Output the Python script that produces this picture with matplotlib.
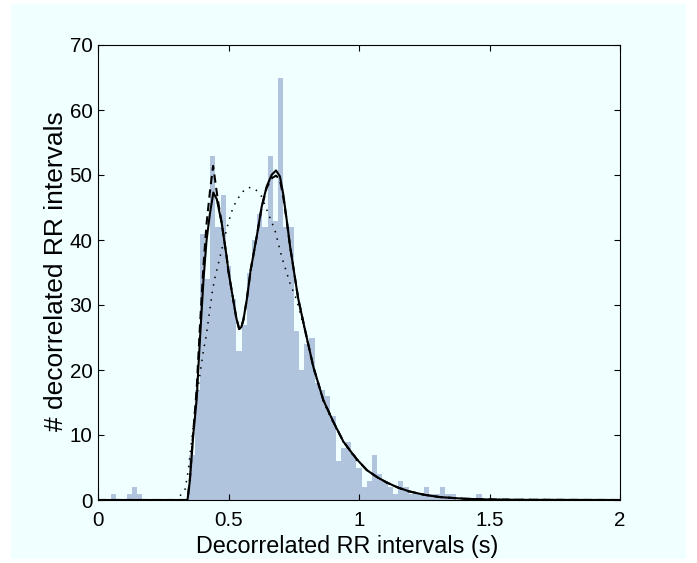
import matplotlib
matplotlib.use("Agg")
import matplotlib.pyplot as plt
from matplotlib.patches import Rectangle

# ---------------- data ----------------
bin_centers = [0.06, 0.12, 0.14, 0.16,
               0.36, 0.38, 0.40, 0.42, 0.44, 0.46, 0.48, 0.50, 0.52, 0.54,
               0.56, 0.58, 0.60, 0.62, 0.64, 0.66, 0.68, 0.70, 0.72, 0.74,
               0.76, 0.78, 0.80, 0.82, 0.84, 0.86, 0.88, 0.90, 0.92, 0.94,
               0.96, 0.98, 1.00, 1.02, 1.04, 1.06, 1.08, 1.10, 1.12, 1.14,
               1.16, 1.18, 1.20, 1.22, 1.24, 1.26, 1.28, 1.30, 1.32, 1.34,
               1.36, 1.46]
bin_counts = [1, 1, 2, 1,
              7, 17, 41, 34, 53, 42, 47, 36, 31, 23,
              27, 35, 40, 44, 42, 53, 43, 65, 42, 42,
              26, 20, 24, 25, 18, 17, 16, 13, 6, 8,
              9, 7, 5, 2, 3, 7, 4, 3, 2, 1,
              3, 2, 1, 1, 1, 2, 1, 1, 2, 1,
              1, 1]
bin_width = 0.02

solid_x = [0.0, 0.343, 0.352, 0.365, 0.378, 0.391, 0.404, 0.416, 0.429, 0.442,
           0.455, 0.474, 0.493, 0.499, 0.518, 0.530, 0.541, 0.549, 0.557, 0.570,
           0.585, 0.608, 0.627, 0.646, 0.665, 0.682, 0.697, 0.710, 0.723, 0.736,
           0.748, 0.767, 0.793, 0.825, 0.863, 0.902, 0.940, 0.966, 0.991, 1.030,
           1.070, 1.106, 1.150, 1.195, 1.25, 1.31, 1.40, 1.476, 1.60, 2.0]
solid_y = [0.0, 0.0, 3.0, 10.0, 15.5, 25.0, 33.8, 40.0, 44.1, 47.3,
           46.3, 42.6, 37.4, 35.4, 30.8, 28.0, 26.3, 26.6, 27.7, 30.8,
           35.4, 40.5, 45.1, 48.2, 50.0, 50.7, 49.8, 47.0, 43.1, 39.0,
           35.9, 31.0, 26.2, 20.5, 15.4, 12.0, 9.0, 7.6, 6.3, 4.6,
           3.5, 2.7, 1.9, 1.3, 0.8, 0.45, 0.2, 0.1, 0.03, 0.0]

dashed_x = [0.0, 0.343, 0.352, 0.365, 0.378, 0.391, 0.404, 0.416, 0.429, 0.441,
            0.446, 0.452, 0.461, 0.474, 0.493, 0.499, 0.518, 0.530, 0.541, 0.549,
            0.557, 0.570, 0.585, 0.608, 0.627, 0.646, 0.665, 0.682, 0.697, 0.710,
            0.723, 0.736, 0.748, 0.767, 0.793, 0.825, 0.863, 0.902, 0.940, 0.966,
            0.991, 1.030, 1.070, 1.106, 1.150, 1.195, 1.25, 1.31, 1.40, 1.476,
            1.60, 2.0]
dashed_y = [0.0, 0.0, 3.2, 10.5, 17.0, 27.0, 36.0, 42.5, 47.5, 51.4,
            50.0, 48.2, 45.7, 42.6, 37.4, 35.4, 30.8, 28.0, 26.3, 26.6,
            27.7, 30.8, 35.4, 40.5, 45.0, 48.0, 49.5, 49.9, 49.3, 46.6,
            43.0, 39.0, 35.9, 31.0, 26.2, 20.5, 15.4, 12.0, 9.0, 7.6,
            6.3, 4.6, 3.5, 2.7, 1.9, 1.3, 0.8, 0.45, 0.2, 0.1,
            0.03, 0.0]

dotted_x = [0.0, 0.30, 0.333, 0.346, 0.359, 0.375, 0.393, 0.404, 0.414, 0.423,
            0.432, 0.439, 0.448, 0.465, 0.480, 0.499, 0.518, 0.550, 0.576, 0.601,
            0.627, 0.652, 0.678, 0.704, 0.736, 0.761, 0.793, 0.825, 0.863, 0.902,
            0.940, 0.991, 1.042, 1.106, 1.195, 1.31, 1.476, 2.0]
dotted_y = [0.0, 0.0, 1.5, 4.6, 9.2, 15.0, 20.0, 23.0, 25.1, 27.7,
            30.3, 32.3, 34.2, 37.0, 39.5, 42.6, 45.1, 47.3, 48.1, 47.9,
            46.7, 44.1, 41.5, 37.4, 33.3, 30.8, 26.0, 20.3, 15.2, 11.8,
            8.9, 6.1, 4.2, 2.6, 1.2, 0.4, 0.1, 0.0]

x_ticks = [0, 0.5, 1, 1.5, 2]
x_tick_labels = ["0", "0.5", "1", "1.5", "2"]
y_ticks = [0, 10, 20, 30, 40, 50, 60, 70]
x_label = "Decorrelated RR intervals (s)"
y_label = "# decorrelated RR intervals"

# ---------------- figure ----------------
W, H = 697, 563
fig = plt.figure(figsize=(W / 100, H / 100), dpi=100, facecolor="white")
bg = "#f0ffff"
fig.patches.append(Rectangle((11 / W, 4 / H), (686 - 11) / W, (559 - 4) / H,
                             transform=fig.transFigure, facecolor=bg,
                             edgecolor="none", zorder=-10))

ax = fig.add_axes([98 / W, 1 - 500 / H, (620 - 98) / W, (500 - 45) / H])
ax.set_facecolor(bg)

ax.bar(bin_centers, bin_counts, width=bin_width, color="#b0c4de",
       edgecolor="none", linewidth=0, zorder=1)

ax.plot(dotted_x, dotted_y, color="black", lw=1.1, linestyle=(0, (1, 4)),
        zorder=3)
ax.plot(dashed_x, dashed_y, color="black", lw=1.5, linestyle=(0, (4, 2.5)),
        zorder=4)
ax.plot(solid_x, solid_y, color="black", lw=1.5, zorder=5)

ax.set_xlim(0, 2)
ax.set_ylim(0, 70)
ax.set_xticks(x_ticks)
ax.set_xticklabels(x_tick_labels)
ax.set_yticks(y_ticks)

font = "Liberation Sans"
ax.tick_params(direction="in", length=4, width=0.8, top=True, right=True,
               labelsize=14.8, colors="black")
ax.tick_params(axis="x", pad=8)
ax.tick_params(axis="y", pad=4)
for lab in ax.get_xticklabels() + ax.get_yticklabels():
    lab.set_fontfamily(font)
for s in ax.spines.values():
    s.set_linewidth(0.8)
    s.set_color("black")

fig.text(347 / W, 1 - 547 / H, x_label, fontsize=16.8, family=font,
         ha="center", va="center")
fig.text(56 / W, 1 - 271 / H, y_label, fontsize=19, family=font,
         ha="center", va="center", rotation=90)

fig.savefig("out.png", dpi=100, facecolor="white")
